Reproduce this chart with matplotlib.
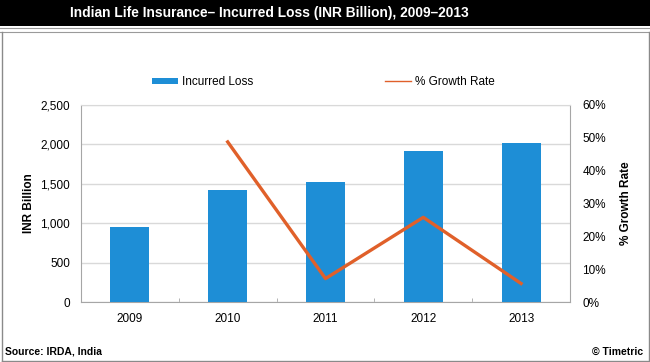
import matplotlib
matplotlib.use("Agg")
import matplotlib.pyplot as plt
from matplotlib.lines import Line2D
from matplotlib.patches import Rectangle, Patch
import numpy as np

years = ["2009", "2010", "2011", "2012", "2013"]
incurred_loss = [955, 1418, 1519, 1911, 2020]
growth_rate = [None, 48.7, 7.2, 25.8, 5.7]
left_ticks = [0, 500, 1000, 1500, 2000, 2500]
right_ticks = [0, 10, 20, 30, 40, 50, 60]

plt.rcParams['font.family'] = ['Liberation Sans', 'DejaVu Sans']

BLUE = '#1E8ED6'
ORANGE = '#E0602A'
GRID = '#D9D9D9'
SPINE = '#A6A6A6'

W, H = 650, 362
fig = plt.figure(figsize=(6.5, 3.62), dpi=100)

def fx(px):
    return px / W

def fy(py):
    return 1 - py / H

# Title bar
fig.patches.append(Rectangle((0, fy(26)), 1, 26 / H, transform=fig.transFigure,
                             facecolor='black', edgecolor='none', zorder=0))
fig.lines.append(Line2D([0, 1], [fy(28), fy(28)], transform=fig.transFigure, color='#9A9A9A', lw=0.8))
fig.lines.append(Line2D([0, 1], [fy(32), fy(32)], transform=fig.transFigure, color='#9A9A9A', lw=0.8))
# outer border
fig.lines.append(Line2D([fx(1.5), fx(1.5)], [fy(32), fy(360.5)], transform=fig.transFigure, color='#8A8A8A', lw=1))
fig.lines.append(Line2D([fx(648.5), fx(648.5)], [fy(32), fy(360.5)], transform=fig.transFigure, color='#8A8A8A', lw=1))
fig.lines.append(Line2D([fx(1.5), fx(648.5)], [fy(360.5), fy(360.5)], transform=fig.transFigure, color='#8A8A8A', lw=1))

fig.text(fx(70), fy(13), "Indian Life Insurance\u2013 Incurred Loss (INR Billion), 2009\u20132013",
         color='white', fontsize=9.9, fontweight='bold', ha='left', va='center')

ax = fig.add_axes([fx(81), fy(302.3), fx(570) - fx(81), fy(104.7) - fy(302.3)])
x = np.arange(len(years))
bars = ax.bar(x, incurred_loss, width=0.4, color=BLUE, zorder=3, label='Incurred Loss')
ax.set_xlim(-0.5, len(years) - 0.5)
ax.set_ylim(0, 2500)
ax.set_yticks(left_ticks)
ax.set_yticklabels([f"{v:,}" for v in left_ticks])
ax.set_xticks(x)
ax.set_xticklabels(years)
ax.set_xticks(np.arange(len(years) + 1) - 0.5, minor=True)
ax.tick_params(axis='x', which='major', length=0, labelsize=8.5, pad=8)
ax.tick_params(axis='x', which='minor', length=3, direction='in', color=SPINE)
ax.tick_params(axis='y', length=0, labelsize=8.5, pad=8)
ax.yaxis.grid(True, color=GRID, lw=1, zorder=0)
ax.set_axisbelow(True)
for s in ['left', 'bottom']:
    ax.spines[s].set_color(SPINE)
ax.spines['top'].set_color(GRID)
ax.spines['right'].set_color(SPINE)
ax.set_ylabel("INR Billion", fontsize=8.5, fontweight='bold', labelpad=4)

ax2 = ax.twinx()
gx = [i for i, g in enumerate(growth_rate) if g is not None]
gy = [g for g in growth_rate if g is not None]
line, = ax2.plot(gx, gy, color=ORANGE, lw=2.4, zorder=4, label='% Growth Rate')
ax2.set_ylim(0, 60)
ax2.set_yticks(right_ticks)
ax2.set_yticklabels([f"{v}%" for v in right_ticks])
ax2.tick_params(axis='y', length=0, labelsize=8.5, pad=9)
for s in ['left', 'bottom', 'top', 'right']:
    ax2.spines[s].set_visible(False)
ax2.set_ylabel("% Growth Rate", fontsize=8.5, fontweight='bold', labelpad=10)

leg1 = fig.legend(handles=[Patch(facecolor=BLUE, edgecolor='none')], labels=['Incurred Loss'],
                  loc='center left', bbox_to_anchor=(fx(141), fy(82)), frameon=False,
                  fontsize=8.5, handlelength=2.2, handleheight=0.45, handletextpad=0.4)
leg2 = fig.legend(handles=[Line2D([], [], color=ORANGE, lw=1)], labels=['% Growth Rate'],
                  loc='center left', bbox_to_anchor=(fx(374), fy(82)), frameon=False,
                  fontsize=8.5, handlelength=2.2, handletextpad=0.4)

fig.text(fx(5), fy(352), "Source: IRDA, India", fontsize=7.5, fontweight='bold', ha='left', va='center')
fig.text(fx(643), fy(352), "\u00a9 Timetric", fontsize=7.5, fontweight='bold', ha='right', va='center')

fig.savefig("out.png", dpi=100)
